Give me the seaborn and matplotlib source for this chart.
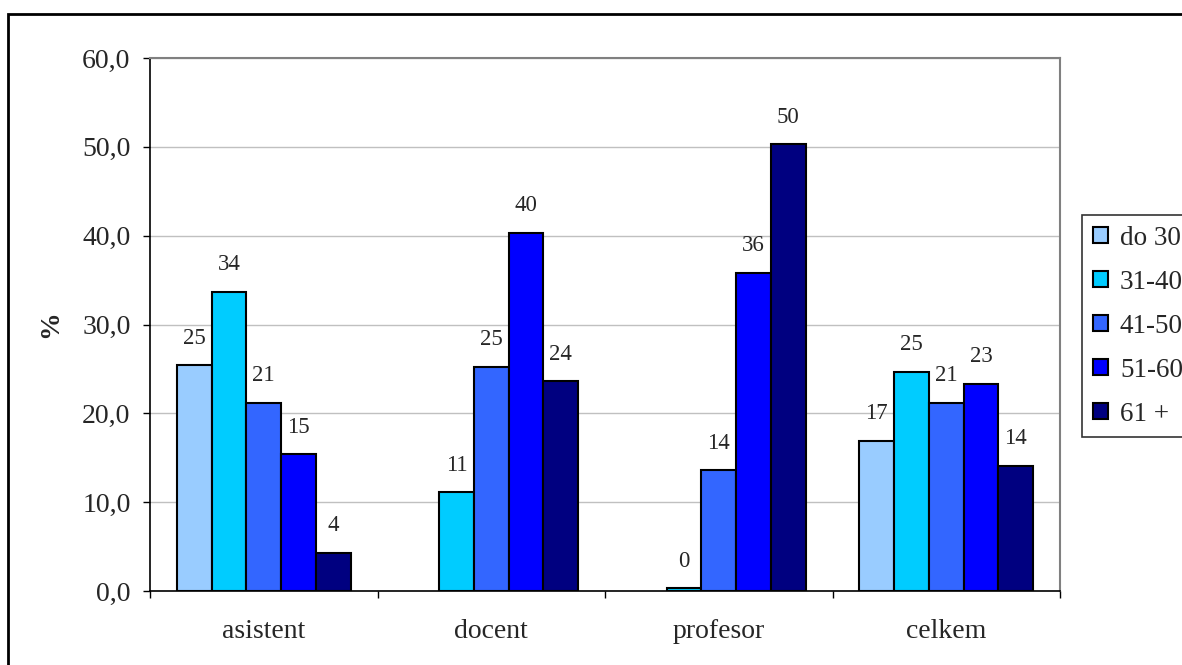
import matplotlib
matplotlib.use("Agg")
import matplotlib.pyplot as plt
from matplotlib.patches import Rectangle
from matplotlib.ticker import FixedLocator, FuncFormatter
import numpy as np
import pandas as pd
import seaborn as sns

# data (NaN = no bar / no label)
categories = ["asistent", "docent", "profesor", "celkem"]
age_groups = ["do 30", "31-40", "41-50", "51-60", "61 +"]
do_30 = [25.4, np.nan, np.nan, 16.9]
v31_40 = [33.7, 11.1, 0.3, 24.7]
v41_50 = [21.2, 25.2, 13.6, 21.2]
v51_60 = [15.4, 40.3, 35.8, 23.3]
v61_plus = [4.3, 23.6, 50.3, 14.1]
colors = ["#99CCFF", "#00CCFF", "#3366FF", "#0000FF", "#000080"]

series = [do_30, v31_40, v41_50, v51_60, v61_plus]
rows = []
for grp, vals in zip(age_groups, series):
    for cat, v in zip(categories, vals):
        rows.append({"pozice": cat, "vek": grp, "pct": v})
df = pd.DataFrame(rows).dropna()

sns.set_theme(style="white")
plt.rcParams["font.family"] = ["Liberation Serif", "DejaVu Serif"]

fig = plt.figure(figsize=(11.82, 6.65), dpi=100)
ax = fig.add_axes([150 / 1182, 1 - 591 / 665, 910 / 1182, (591 - 58) / 665])

sns.barplot(data=df, x="pozice", y="pct", hue="vek", order=categories,
            hue_order=age_groups, palette=colors, width=0.763, errorbar=None,
            edgecolor="black", linewidth=1.5, saturation=1, ax=ax,
            legend=True)

for cont in ax.containers:
    ax.bar_label(cont, fmt="%.0f", padding=12, fontsize=16.5)

ax.set_xlim(-0.5, 3.5)
ax.set_ylim(0, 60)
ax.yaxis.set_major_locator(FixedLocator(np.arange(0, 61, 10)))
ax.yaxis.set_major_formatter(FuncFormatter(lambda v, p: f"{v:.1f}".replace(".", ",")))
ax.grid(axis="y", color="#C0C0C0", linewidth=1)
ax.set_axisbelow(True)

ax.tick_params(axis="y", which="major", left=True, length=5, width=1,
               color="black", labelsize=20, pad=9)
ax.tick_params(axis="x", which="major", bottom=False, length=0, labelsize=20, pad=20)
ax.xaxis.set_minor_locator(FixedLocator([-0.5, 0.5, 1.5, 2.5, 3.5]))
ax.tick_params(axis="x", which="minor", bottom=True, length=5, width=1, color="black")

for side in ["left", "bottom"]:
    ax.spines[side].set_color("black")
    ax.spines[side].set_linewidth(1.2)
for side in ["top", "right"]:
    ax.spines[side].set_color("#808080")
    ax.spines[side].set_linewidth(1.5)

ax.set_xlabel("")
ax.set_ylabel("%", fontsize=20, fontweight="bold", labelpad=14)

handles, labels = ax.get_legend_handles_labels()
ax.get_legend().remove()
leg = fig.legend(handles, labels, loc="upper left",
                 bbox_to_anchor=(1082 / 1182, 1 - 215 / 665),
                 frameon=True, fancybox=False, fontsize=19.5, borderaxespad=0,
                 handlelength=0.55, handleheight=0.55, handletextpad=0.45,
                 labelspacing=0.7, borderpad=0.4)
leg.get_frame().set_edgecolor("black")
leg.get_frame().set_linewidth(1.2)

# outer chart frame (runs off the right and bottom edge)
fig.patches.append(Rectangle((8 / 1182, -0.05), 1.2, 1 - 14 / 665 + 0.05,
                             transform=fig.transFigure, fill=False,
                             edgecolor="black", linewidth=2))

fig.savefig("out.png", dpi=100)
